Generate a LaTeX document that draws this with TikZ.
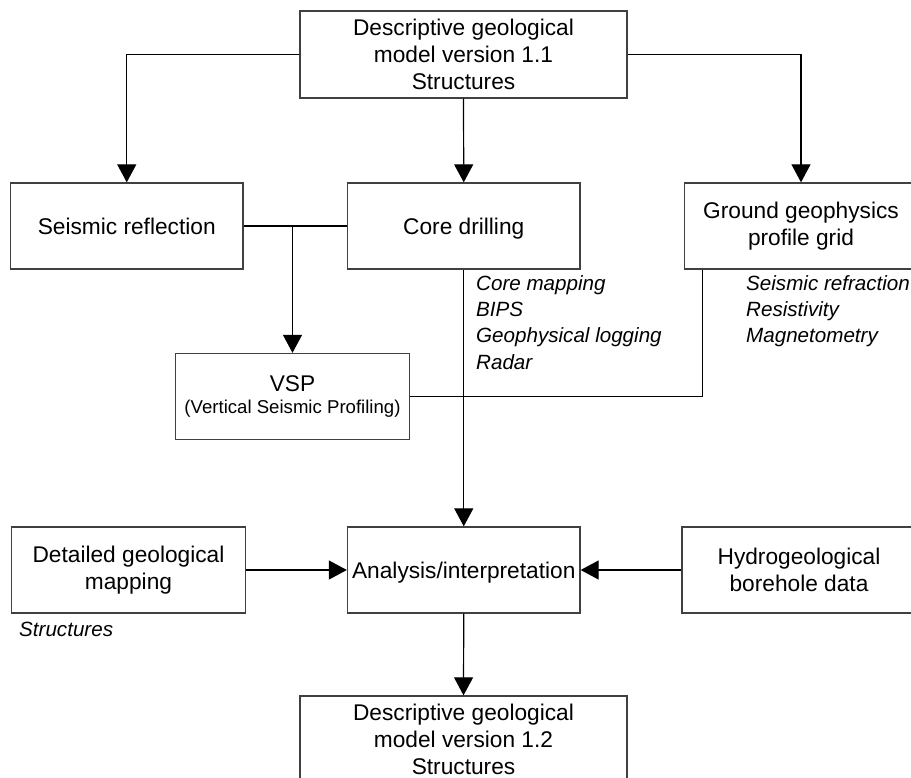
\documentclass[tikz,border=0pt]{standalone}
\usepackage{fontspec}
\setmainfont{Liberation Sans}
\usetikzlibrary{arrows.meta}
\begin{document}
\begin{tikzpicture}[x=1pt,y=-1pt,
  box/.style={draw=black!75, line width=1.3pt, minimum width=233pt, minimum height=86pt,
    inner sep=0pt, align=center, font=\fontsize{22.7}{27}\selectfont},
  oneline/.style={text depth=0pt},
  widebox/.style={box, minimum width=327pt, minimum height=87pt},
  conn/.style={draw=black, line width=1.2pt},
  arr/.style={conn, -{Triangle[width=19pt,length=18pt]}},
  lab/.style={inner sep=0pt, align=left, font=\fontsize{20.6}{26.4}\selectfont\itshape}]
\useasboundingbox (0,0) rectangle (911,778);

\node[widebox] (top) at (463.5,54.5) {Descriptive geological\\model version 1.1\\Structures};
\node[box, oneline, minimum width=232.5pt] (seis) at (126.75,226) {Seismic reflection};
\node[box, oneline, minimum width=232.5pt] (core) at (463.75,226) {Core drilling};
\node[box] (ground) at (801,226) {Ground geophysics\\profile grid};
\node[box, minimum width=234pt, font=\fontsize{22.7}{22}\selectfont] (vsp) at (292.5,396.5)
  {VSP\\{\fontsize{18.6}{22}\selectfont (Vertical Seismic Profiling)}};
\node[box, oneline, minimum width=232.5pt] (ana) at (463.75,570) {Analysis/interpretation};
\node[box, minimum width=234pt] (det) at (128.5,570) {Detailed geological\\mapping};
\node[box, minimum width=234pt] (hyd) at (799,570) {Hydrogeological\\borehole data};
\node[widebox] (bot) at (463.5,739.5) {Descriptive geological\\model version 1.2\\Structures};

\node[lab, anchor=north west] (corelab) at (476,275)
  {Core mapping\\BIPS\\Geophysical logging\\Radar};
\node[lab, anchor=north west] (groundlab) at (746,275)
  {Seismic refraction\\Resistivity\\Magnetometry};
\node[lab, anchor=base west] (detlab) at (19,636) {Structures};

\draw[arr] (top.west) -| (seis.north);
\draw[arr] (top.east) -| (ground.north);
\draw[arr] (top.south) -- (core.north);
\draw[conn] (seis.east) -- (core.west);
\coordinate (j) at (vsp.north |- seis.east);
\draw[arr] (j) -- (vsp.north);
\draw[arr] (core.south) -- (ana.north);
\coordinate (gs) at ([xshift=18.5pt]ground.south west);
\draw[conn] (gs) |- (vsp.east);
\draw[arr] (det.east) -- (ana.west);
\draw[arr] (hyd.west) -- (ana.east);
\draw[arr] (ana.south) -- (bot.north);
\end{tikzpicture}
\end{document}
